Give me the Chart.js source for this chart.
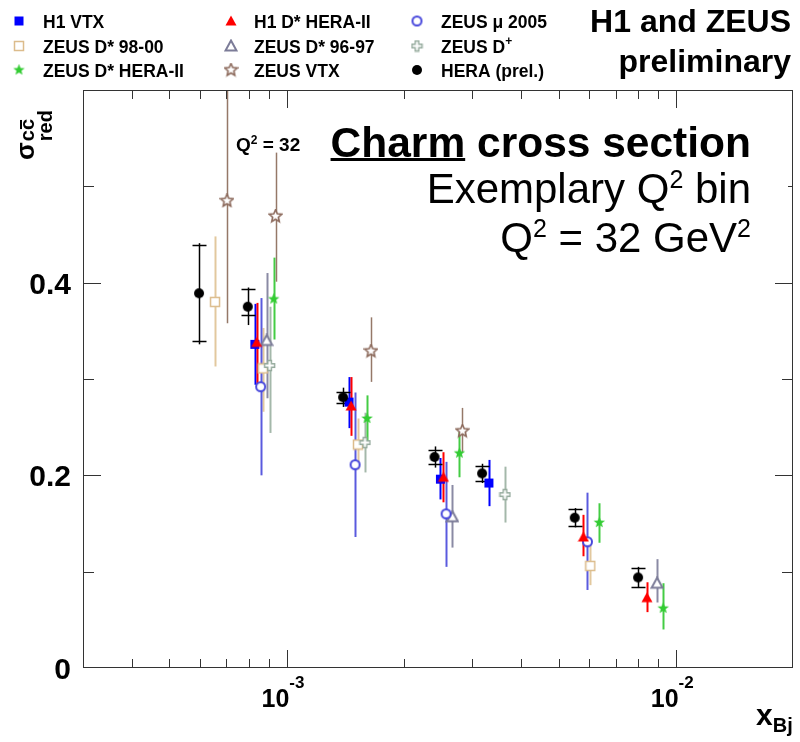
<!DOCTYPE html>
<html>
<head>
<meta charset="utf-8">
<script src="https://cdn.jsdelivr.net/npm/chart.js@4.4.1/dist/chart.umd.min.js"></script>
<style>
  body { margin: 0; background: #fff; }
  canvas { display: block; }
</style>
</head>
<body>
<canvas id="charm" width="800" height="742"></canvas>
<script>
// ---- data: x_Bj, sigma_red, errors up / down ----
var h1VtxX = [8.29e-4, 1.447e-3, 2.485e-3, 3.31e-3];
var h1VtxY = [0.336, 0.276, 0.196, 0.192];
var h1VtxUp = [0.042, 0.026, 0.022, 0.024];
var h1VtxDn = [0.042, 0.027, 0.021, 0.024];

var zDst9800X = [6.55e-4, 8.69e-4, 1.526e-3, 6.03e-3];
var zDst9800Y = [0.380, 0.311, 0.232, 0.106];
var zDst9800Up = [0.068, 0.042, 0.027, 0.022];
var zDst9800Dn = [0.067, 0.045, 0.026, 0.020];

var zDstH2X = [9.27e-4, 1.61e-3, 2.78e-3, 6.36e-3, 9.28e-3];
var zDstH2Y = [0.383, 0.259, 0.223, 0.151, 0.062];
var zDstH2Up = [0.043, 0.024, 0.022, 0.020, 0.026];
var zDstH2Dn = [0.042, 0.027, 0.025, 0.021, 0.022];

var h1DstX = [8.38e-4, 1.465e-3, 2.53e-3, 5.79e-3, 8.43e-3];
var h1DstY = [0.338, 0.272, 0.198, 0.136, 0.073];
var h1DstUp = [0.041, 0.030, 0.026, 0.023, 0.016];
var h1DstDn = [0.045, 0.031, 0.026, 0.020, 0.015];

var zDst9697X = [8.89e-4, 2.667e-3, 8.95e-3];
var zDst9697Y = [0.340, 0.157, 0.088];
var zDst9697Up = [0.070, 0.033, 0.025];
var zDst9697Dn = [0.060, 0.032, 0.020];

var zVtxX = [7.03e-4, 9.37e-4, 1.648e-3, 2.83e-3];
var zVtxY = [0.485, 0.469, 0.329, 0.246];
var zVtxUp = [0.200, 0.066, 0.035, 0.024];
var zVtxDn = [0.127, 0.068, 0.032, 0.022];

var zMuX = [8.58e-4, 1.50e-3, 2.57e-3, 5.93e-3];
var zMuY = [0.292, 0.211, 0.160, 0.131];
var zMuUp = [0.092, 0.075, 0.054, 0.051];
var zMuDn = [0.092, 0.075, 0.055, 0.050];

var zDplusX = [9.05e-4, 1.59e-3, 3.64e-3];
var zDplusY = [0.314, 0.234, 0.180];
var zDplusUp = [0.061, 0.031, 0.029];
var zDplusDn = [0.070, 0.031, 0.029];

var heraX = [5.96e-4, 7.95e-4, 1.397e-3, 2.40e-3, 3.18e-3, 5.50e-3, 8.00e-3];
var heraY = [0.389, 0.375, 0.281, 0.219, 0.202, 0.156, 0.094];
var heraStatUp = [0.050, 0.018, 0.006, 0.007, 0.008, 0.009, 0.010];
var heraStatDn = [0.050, 0.009, 0.006, 0.007, 0.008, 0.009, 0.010];
var heraTotUp = [0.052, 0.020, 0.010, 0.011, 0.010, 0.010, 0.011];
var heraTotDn = [0.053, 0.019, 0.010, 0.011, 0.010, 0.010, 0.011];

var yTickLabels = [0, 0.2, 0.4];
var xMajorTicks = [1e-3, 1e-2];

// ---- marker pictures ----
function mk(size, draw) {
  var c = document.createElement('canvas');
  c.width = size; c.height = size;
  draw(c.getContext('2d'), size / 2);
  return c;
}
function starPath(g, c, R, r) {
  g.beginPath();
  for (var i = 0; i < 10; i++) {
    var a = -Math.PI / 2 + i * Math.PI / 5;
    var rad = i % 2 ? r : R;
    g.lineTo(c + rad * Math.cos(a), c + rad * Math.sin(a));
  }
  g.closePath();
}
var mSquare = mk(11, function (g, c) { g.fillStyle = '#0000ff'; g.fillRect(c - 4.5, c - 4.5, 9, 9); });
var mOpenSquare = mk(12, function (g, c) {
  g.fillStyle = '#fff'; g.strokeStyle = '#dcbc8c'; g.lineWidth = 1.5;
  g.fillRect(c - 4.5, c - 4.5, 9, 9); g.strokeRect(c - 4.5, c - 4.5, 9, 9);
});
var mGreenStar = mk(13, function (g, c) { g.fillStyle = '#33cc33'; starPath(g, c, 6, 2.6); g.fill(); });
var mRedTri = mk(12, function (g, c) {
  g.fillStyle = '#ff0000'; g.beginPath();
  g.moveTo(c, c - 5.5); g.lineTo(c + 5.5, c + 4.5); g.lineTo(c - 5.5, c + 4.5); g.closePath(); g.fill();
});
var mGreyTri = mk(14, function (g, c) {
  g.fillStyle = '#fff'; g.strokeStyle = '#7c7c98'; g.lineWidth = 2; g.beginPath();
  g.moveTo(c, c - 5.5); g.lineTo(c + 5.5, c + 4.5); g.lineTo(c - 5.5, c + 4.5); g.closePath(); g.fill(); g.stroke();
});
var mBrownStar = mk(15, function (g, c) {
  g.fillStyle = '#fff'; g.strokeStyle = '#8c6a5c'; g.lineWidth = 1.6;
  starPath(g, c, 6.5, 3); g.fill(); g.stroke();
});
var mMuCircle = mk(13, function (g, c) {
  g.fillStyle = '#fff'; g.strokeStyle = '#4848dc'; g.lineWidth = 2;
  g.beginPath(); g.arc(c, c, 4.5, 0, Math.PI * 2); g.fill(); g.stroke();
});
var mCross = mk(13, function (g, c) {
  g.fillStyle = '#fff'; g.strokeStyle = '#94aa9c'; g.lineWidth = 1.4;
  var a = 5, b = 1.8; g.beginPath();
  g.moveTo(c - b, c - a); g.lineTo(c + b, c - a); g.lineTo(c + b, c - b); g.lineTo(c + a, c - b);
  g.lineTo(c + a, c + b); g.lineTo(c + b, c + b); g.lineTo(c + b, c + a); g.lineTo(c - b, c + a);
  g.lineTo(c - b, c + b); g.lineTo(c - a, c + b); g.lineTo(c - a, c - b); g.lineTo(c - b, c - b);
  g.closePath(); g.fill(); g.stroke();
});
var mBlack = mk(12, function (g, c) { g.fillStyle = '#000'; g.beginPath(); g.arc(c, c, 5, 0, Math.PI * 2); g.fill(); });

function pts(xs, ys) { return xs.map(function (x, i) { return { x: x, y: ys[i] }; }); }

function series(label, xs, ys, up, dn, marker, color, width, order) {
  return {
    label: label, data: pts(xs, ys), pointStyle: marker, pointRadius: 6,
    errUp: up, errDn: dn, errColor: color, errWidth: width, order: order, showLine: false
  };
}

var datasets = [
  series('H1 VTX', h1VtxX, h1VtxY, h1VtxUp, h1VtxDn, mSquare, '#0000ff', 2, 4),
  series('ZEUS D* 98-00', zDst9800X, zDst9800Y, zDst9800Up, zDst9800Dn, mOpenSquare, '#e2c89e', 2, 8),
  series('ZEUS D* HERA-II', zDstH2X, zDstH2Y, zDstH2Up, zDstH2Dn, mGreenStar, '#44cc44', 2, 2),
  series('H1 D* HERA-II', h1DstX, h1DstY, h1DstUp, h1DstDn, mRedTri, '#ff0000', 2, 3),
  series('ZEUS D* 96-97', zDst9697X, zDst9697Y, zDst9697Up, zDst9697Dn, mGreyTri, '#8a8aa4', 2, 6),
  series('ZEUS VTX', zVtxX, zVtxY, zVtxUp, zVtxDn, mBrownStar, '#957868', 1.5, 1),
  series('ZEUS \u03bc 2005', zMuX, zMuY, zMuUp, zMuDn, mMuCircle, '#5a5ade', 2, 5),
  series('ZEUS D+', zDplusX, zDplusY, zDplusUp, zDplusDn, mCross, '#a4b8aa', 2, 7),
  series('HERA (prel.)', heraX, heraY, heraTotUp, heraTotDn, mBlack, '#000000', 1.5, 0)
];
datasets[8].capUp = heraStatUp;
datasets[8].capDn = heraStatDn;

// error bars drawn from the chart's own scales
var errorBars = {
  id: 'errorBars',
  beforeDatasetsDraw: function (chart) {
    var ctx = chart.ctx, xs = chart.scales.x, ys = chart.scales.y, a = chart.chartArea;
    ctx.save();
    ctx.beginPath(); ctx.rect(a.left, a.top, a.right - a.left, a.bottom - a.top); ctx.clip();
    chart.data.datasets.slice().sort(function (p, q) { return q.order - p.order; }).forEach(function (ds) {
      ctx.strokeStyle = ds.errColor; ctx.lineWidth = ds.errWidth;
      ds.data.forEach(function (p, i) {
        var px = Math.round(xs.getPixelForValue(p.x)) + 0.5;
        var top = ys.getPixelForValue(p.y + ds.errUp[i]);
        var bot = ys.getPixelForValue(p.y - ds.errDn[i]);
        ctx.beginPath(); ctx.moveTo(px, top); ctx.lineTo(px, bot); ctx.stroke();
        if (ds.capUp) {
          [p.y + ds.capUp[i], p.y - ds.capDn[i]].forEach(function (v) {
            var py = Math.round(ys.getPixelForValue(v)) + 0.5;
            ctx.beginPath(); ctx.moveTo(px - 7, py); ctx.lineTo(px + 7, py); ctx.stroke();
          });
        }
      });
    });
    ctx.restore();
  }
};

// text pieces with super / subscripts: [text, size, dy]
function drawParts(ctx, x, y, parts, weight, align) {
  var total = 0;
  parts.forEach(function (p) { ctx.font = weight + ' ' + p[1] + 'px "Liberation Sans", Arial, sans-serif'; total += ctx.measureText(p[0]).width; });
  var cx = align === 'right' ? x - total : (align === 'center' ? x - total / 2 : x);
  parts.forEach(function (p) {
    ctx.font = weight + ' ' + p[1] + 'px "Liberation Sans", Arial, sans-serif';
    ctx.fillText(p[0], cx, y + (p[2] || 0));
    cx += ctx.measureText(p[0]).width;
  });
  return cx;
}

var frame = {
  id: 'frame',
  afterDraw: function (chart) {
    var ctx = chart.ctx, xs = chart.scales.x, ys = chart.scales.y, a = chart.chartArea;
    ctx.save();
    ctx.strokeStyle = '#333'; ctx.lineWidth = 1;
    ctx.strokeRect(a.left + 0.5, a.top + 0.5, a.right - a.left - 1, a.bottom - a.top - 1);

    // x ticks (bottom and top, inward)
    for (var d = -4; d <= -2; d++) {
      for (var m = 1; m <= 9; m++) {
        var v = m * Math.pow(10, d);
        if (v <= xs.min || v >= xs.max) continue;
        var px = Math.round(xs.getPixelForValue(v)) + 0.5;
        var len = m === 1 ? 18 : 9;
        ctx.beginPath();
        ctx.moveTo(px, a.bottom); ctx.lineTo(px, a.bottom - len);
        ctx.moveTo(px, a.top); ctx.lineTo(px, a.top + len);
        ctx.stroke();
      }
    }
    // y ticks (left and right, inward)
    for (var k = 1; k <= 5; k++) {
      var py = Math.round(ys.getPixelForValue(k * 0.1)) + 0.5;
      var l = k % 2 === 0 ? 18 : 11;
      ctx.beginPath();
      ctx.moveTo(a.left, py); ctx.lineTo(a.left + l, py);
      ctx.moveTo(a.right, py); ctx.lineTo(a.right - l, py);
      ctx.stroke();
    }

    ctx.fillStyle = '#000';
    ctx.textBaseline = 'alphabetic';
    // y tick labels
    yTickLabels.forEach(function (v) {
      ctx.font = 'bold 30px "Liberation Sans", Arial, sans-serif';
      ctx.textAlign = 'right';
      ctx.fillText(v === 0 ? '0' : v.toFixed(1), 71, ys.getPixelForValue(v) + 11);
    });
    ctx.textAlign = 'left';
    // x tick labels 10^n
    xMajorTicks.forEach(function (v) {
      var px = xs.getPixelForValue(v);
      var e = Math.round(Math.log10(v));
      drawParts(ctx, px - 25, 707, [['10', 25, 0], [String(e), 17, -19]], 'bold', 'left');
    });

    // axis titles
    drawParts(ctx, 756, 725, [['x', 30, 0], ['Bj', 20, 7]], 'bold', 'left');
    ctx.save();
    ctx.translate(34, 160);
    ctx.rotate(-Math.PI / 2);
    ctx.font = 'bold 26px "Liberation Sans", Arial, sans-serif';
    ctx.fillText('\u03c3', 0, 0);
    var sw = ctx.measureText('\u03c3').width + 1;
    ctx.font = 'bold 20px "Liberation Sans", Arial, sans-serif';
    ctx.fillText('cc', sw, 0);
    var cw = ctx.measureText('c').width;
    ctx.fillRect(sw + cw + 1, -14, cw - 2, 2);
    ctx.fillText('red', sw, 18);
    ctx.restore();

    // small label partly hidden by the title box
    drawParts(ctx, 236, 151, [['Q', 19, 0], ['2', 12, -7], [' = 32', 19, 0]], 'bold', 'left');
    ctx.fillStyle = '#fff';
    ctx.fillRect(303, 112, 485, 146);
    ctx.fillStyle = '#000';

    // title block
    ctx.textAlign = 'left';
    ctx.font = 'bold 42.5px "Liberation Sans", Arial, sans-serif';
    var t1 = 'Charm cross section';
    var w1 = ctx.measureText(t1).width;
    var x1 = 751 - w1;
    ctx.fillText(t1, x1, 157);
    ctx.fillRect(x1, 158, ctx.measureText('Charm').width, 3);
    drawParts(ctx, 751, 203, [['Exemplary Q', 42, 0], ['2', 25, -15], [' bin', 42, 0]], 'normal', 'right');
    drawParts(ctx, 751, 252, [['Q', 42, 0], ['2', 25, -15], [' = 32 GeV', 42, 0], ['2', 25, -15]], 'normal', 'right');

    // top right label
    ctx.font = 'bold 32px "Liberation Sans", Arial, sans-serif';
    ctx.textAlign = 'right';
    ctx.fillText('H1 and ZEUS', 791, 32);
    ctx.fillText('preliminary', 791, 72);
    ctx.textAlign = 'left';

    // legend, three columns
    var cols = [[19, 43], [231, 254], [417, 441]];
    var rows = [21, 46, 70];
    var order = [[0, 3, 6], [1, 4, 7], [2, 5, 8]];
    order.forEach(function (row, r) {
      row.forEach(function (di, c) {
        var ds = chart.data.datasets[di];
        var img = ds.pointStyle;
        ctx.drawImage(img, cols[c][0] - img.width / 2, rows[r] - img.height / 2);
        var base = rows[r] + 7;
        if (ds.label === 'ZEUS D+') {
          drawParts(ctx, cols[c][1], base, [['ZEUS D', 17.5, 0], ['+', 12, -8]], 'bold', 'left');
        } else {
          ctx.font = 'bold 17.5px "Liberation Sans", Arial, sans-serif';
          ctx.fillText(ds.label, cols[c][1], base);
        }
      });
    });
    ctx.restore();
  }
};

new Chart(document.getElementById('charm'), {
  type: 'scatter',
  data: { datasets: datasets },
  options: {
    responsive: false,
    animation: false,
    layout: { padding: { left: 83, right: 3, top: 90, bottom: 74 } },
    scales: {
      x: { type: 'logarithmic', min: 3e-4, max: 2e-2, display: false },
      y: { type: 'linear', min: 0, max: 0.6, display: false }
    },
    plugins: { legend: { display: false }, tooltip: { enabled: false } }
  },
  plugins: [errorBars, frame]
});
</script>
</body>
</html>
